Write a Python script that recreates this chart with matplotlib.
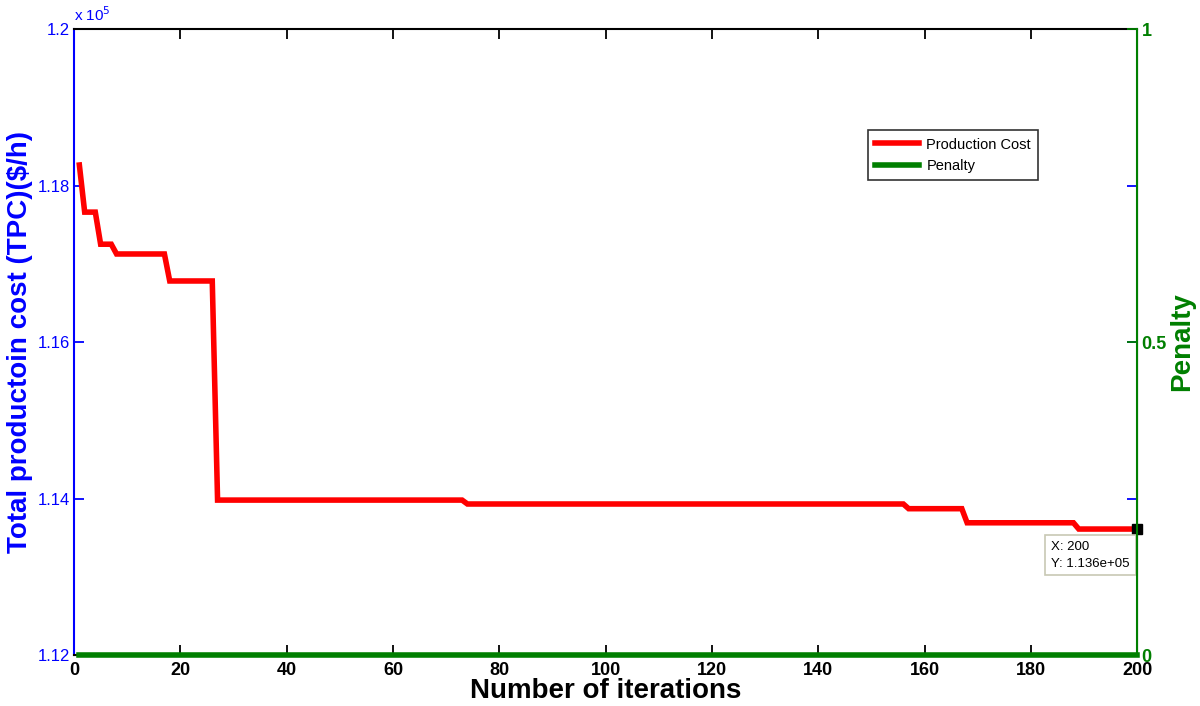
import numpy as np
import matplotlib
matplotlib.use('Agg')
import matplotlib.pyplot as plt

plt.rcParams['font.family'] = ['Liberation Sans', 'DejaVu Sans']

# breakpoints of the best-cost curve (iteration, cost in $/h)
iters = [1, 2, 4, 5, 7, 8, 17, 18, 26, 27, 73, 74, 156, 157, 167, 168, 188, 189, 200]
cost = [118262, 117660, 117660, 117250, 117250, 117125, 117125, 116780, 116780,
        113980, 113980, 113930, 113930, 113870, 113870, 113690, 113690, 113610, 113610]

pen_iters = [1, 200]
penalty = [0, 0]

x_ticks = [0, 20, 40, 60, 80, 100, 120, 140, 160, 180, 200]
y_ticks = [1.12, 1.14, 1.16, 1.18, 1.2]
pen_ticks = [0, 0.5, 1]

blue = '#0000ff'
green = '#007f00'
red = '#ff0000'

fig = plt.figure(figsize=(12, 7.06), dpi=100)
ax = fig.add_axes([0.0617, 0.0722, 0.886, 0.8867])
ax2 = ax.twinx()

# cost shown in units of 1e5, like the MATLAB axis
c = np.array(cost) / 1e5
l1, = ax.plot(iters, c, color=red, lw=4, solid_joinstyle='miter', zorder=3)
ax.plot([200], [c[-1]], 's', color='black', ms=7, zorder=5, clip_on=False)

l2, = ax2.plot(pen_iters, penalty, color=green, lw=4, clip_on=False)

ax.set_xlim(0, 200)
ax.set_ylim(1.12, 1.2)
ax2.set_ylim(0, 1)

ax.set_xticks(x_ticks)
ax.set_xticklabels([str(t) for t in x_ticks], fontsize=13, fontweight='bold')
ax.set_yticks(y_ticks)
ax.set_yticklabels(['1.12', '1.14', '1.16', '1.18', '1.2'], fontsize=12, color=blue)
ax.tick_params(axis='x', direction='in', length=7, width=1.3, top=True, colors='black', pad=5)
ax.tick_params(axis='y', direction='in', length=7, width=1.3, right=True, colors=blue, labelcolor=blue, pad=3)

ax2.set_yticks(pen_ticks)
ax2.set_yticklabels(['0', '0.5', '1'], fontsize=13, fontweight='bold', color=green)
ax2.tick_params(axis='y', direction='in', length=7, width=1.3, colors=green, pad=3)

for s in ['top', 'bottom']:
    ax.spines[s].set_color('black')
    ax.spines[s].set_linewidth(1.5)
ax.spines['left'].set_color(blue)
ax.spines['left'].set_linewidth(1.5)
ax2.spines['right'].set_color(green)
ax2.spines['right'].set_linewidth(1.5)
ax2.spines['left'].set_visible(False)
ax2.spines['top'].set_visible(False)
ax2.spines['bottom'].set_visible(False)

ax.set_xlabel('Number of iterations', fontsize=20, fontweight='bold', labelpad=-1)
ax.set_ylabel('Total productoin cost (TPC)($/h)', fontsize=20, fontweight='bold', color=blue, labelpad=3)
ax2.set_ylabel('Penalty', fontsize=20, fontweight='bold', color=green, labelpad=2)

ax.text(0.0, 1.008, r'x 10$^5$', transform=ax.transAxes, color=blue, fontsize=11,
        ha='left', va='bottom')

leg = ax.legend([l1, l2], ['Production Cost', 'Penalty'], loc='upper left',
                bbox_to_anchor=(0.74, 0.85), fontsize=10.5, frameon=True, fancybox=False,
                edgecolor='black', handlelength=3.0, handletextpad=0.5,
                borderpad=0.5, labelspacing=0.5)
leg.get_frame().set_linewidth(1.2)
leg.set_zorder(10)

# data tip
ax.annotate('X: 200\nY: 1.136e+05', xy=(200, c[-1]), xytext=(-86, -12),
            textcoords='offset pixels', fontsize=9.5, ha='left', va='top',
            linespacing=1.5,
            bbox=dict(boxstyle='square,pad=0.45', fc='white', ec='#c8c8b4', lw=1.2),
            zorder=10)

fig.savefig('out.png', dpi=100)
